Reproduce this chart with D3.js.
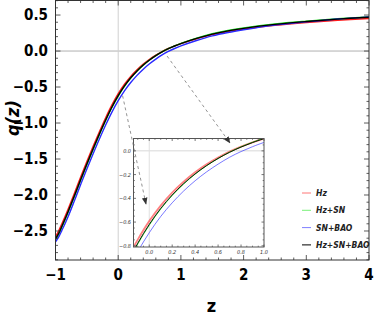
<!DOCTYPE html>
<html>
<head>
<meta charset="utf-8">
<script src="https://cdn.jsdelivr.net/npm/d3@7"></script>
<style>
  body { margin: 0; background: #fff; }
  svg text { font-family: "Liberation Sans Narrow", "Arial Narrow", "DejaVu Sans Condensed", sans-serif; }
</style>
</head>
<body>
<svg id="chart" width="374" height="319"></svg>
<script>
// redshift grid
var zVals = [-1, -0.97, -0.94, -0.9, -0.85, -0.8, -0.7, -0.6, -0.5, -0.4, -0.3, -0.2, -0.1, 0,
  0.1, 0.2, 0.3, 0.4, 0.5, 0.6, 0.7, 0.8, 0.9, 1.0, 1.25, 1.5, 1.75, 2, 2.5, 3, 3.5, 4];

// q(z) for each data combination
var qHz = [-2.58, -2.532, -2.48, -2.402, -2.302, -2.197, -1.978, -1.753, -1.533, -1.323, -1.12, -0.926, -0.748, -0.592,
  -0.461, -0.352, -0.26, -0.181, -0.114, -0.057, -0.007, 0.035, 0.071, 0.103, 0.17, 0.228, 0.272, 0.305, 0.357, 0.396, 0.427, 0.452];
var qHzSN = [-2.625, -2.578, -2.527, -2.449, -2.349, -2.244, -2.024, -1.799, -1.578, -1.367, -1.162, -0.966, -0.785, -0.626,
  -0.49, -0.376, -0.279, -0.196, -0.125, -0.064, -0.011, 0.034, 0.072, 0.106, 0.18, 0.241, 0.286, 0.321, 0.376, 0.415, 0.448, 0.474];
var qSNBAO = [-2.65, -2.612, -2.567, -2.495, -2.403, -2.303, -2.083, -1.858, -1.638, -1.428, -1.223, -1.028, -0.848, -0.69,
  -0.553, -0.438, -0.338, -0.252, -0.177, -0.112, -0.054, -0.006, 0.035, 0.071, 0.146, 0.21, 0.257, 0.295, 0.36, 0.405, 0.445, 0.475];
var qAll = [-2.61, -2.565, -2.515, -2.438, -2.338, -2.233, -2.013, -1.788, -1.568, -1.358, -1.153, -0.958, -0.778, -0.62,
  -0.485, -0.372, -0.276, -0.194, -0.124, -0.064, -0.012, 0.032, 0.07, 0.103, 0.175, 0.235, 0.28, 0.315, 0.37, 0.41, 0.443, 0.47];

var seriesNames = ["Hz", "Hz+SN", "SN+BAO", "Hz+SN+BAO"];
var seriesValues = [qHz, qHzSN, qSNBAO, qAll];
var seriesColors = ["#ff1a1a", "#1ee61e", "#2a2aff", "#000000"];

var xTicks = [-1, 0, 1, 2, 3, 4];
var yTicks = [0.5, 0.0, -0.5, -1.0, -1.5, -2.0, -2.5];
var insetXTicks = [0.0, 0.2, 0.4, 0.6, 0.8, 1.0];
var insetYTicks = [0.0, -0.2, -0.4, -0.6, -0.8];

var svg = d3.select("svg#chart");

var x = d3.scaleLinear().domain([-1, 4]).range([55.5, 369]);
var y = d3.scaleLinear().domain([-2.903, 0.702]).range([260, 0.5]);

var series = seriesNames.map(function(n, i) {
  return { name: n, color: seriesColors[i], pts: zVals.map(function(z, j) { return [z, seriesValues[i][j]]; }) };
});

function fmtMinus(s) { return s.replace("-", "\u2212"); }

// ---- main plot ----
svg.append("clipPath").attr("id", "mainclip").append("rect")
  .attr("x", x(-1)).attr("y", 0.5).attr("width", x(4) - x(-1)).attr("height", 259.5);

// axis lines through origin
svg.append("line").attr("x1", x(-1)).attr("x2", x(4)).attr("y1", y(0)).attr("y2", y(0))
  .attr("stroke", "#b0b0b0").attr("stroke-width", 1);
svg.append("line").attr("x1", x(0)).attr("x2", x(0)).attr("y1", 0.5).attr("y2", 260)
  .attr("stroke", "#d0d0d0").attr("stroke-width", 1);

var line = d3.line().x(d => x(d[0])).y(d => y(d[1])).curve(d3.curveCatmullRom);

svg.append("g").attr("clip-path", "url(#mainclip)")
  .selectAll("path").data(series).enter().append("path")
  .attr("d", d => line(d.pts))
  .attr("fill", "none")
  .attr("stroke", d => d.color)
  .attr("stroke-width", 1.4);

// frame + ticks
function drawFrame(g, xs, ys, xMajor, xMinor, yMajor, yMinor, tl, tm, col) {
  var x0 = xs.range()[0], x1 = xs.range()[1], y0 = ys.range()[1], y1 = ys.range()[0];
  g.append("rect").attr("x", x0).attr("y", y0).attr("width", x1 - x0).attr("height", y1 - y0)
    .attr("fill", "none").attr("stroke", col).attr("stroke-width", 1);
  xMajor.concat(xMinor).forEach(function(v, i) {
    var L = i < xMajor.length ? tl : tm;
    g.append("line").attr("x1", xs(v)).attr("x2", xs(v)).attr("y1", y1).attr("y2", y1 - L).attr("stroke", col).attr("stroke-width", 0.8);
    g.append("line").attr("x1", xs(v)).attr("x2", xs(v)).attr("y1", y0).attr("y2", y0 + L).attr("stroke", col).attr("stroke-width", 0.8);
  });
  yMajor.concat(yMinor).forEach(function(v, i) {
    var L = i < yMajor.length ? tl : tm;
    g.append("line").attr("y1", ys(v)).attr("y2", ys(v)).attr("x1", x0).attr("x2", x0 + L).attr("stroke", col).attr("stroke-width", 0.8);
    g.append("line").attr("y1", ys(v)).attr("y2", ys(v)).attr("x1", x1).attr("x2", x1 - L).attr("stroke", col).attr("stroke-width", 0.8);
  });
}

var mainFrame = svg.append("g");
var xMinor = d3.range(-1, 4.001, 0.2).filter(v => Math.abs(v - Math.round(v)) > 1e-6);
var yMinor = d3.range(-2.9, 0.71, 0.1).filter(v => Math.abs(v * 2 - Math.round(v * 2)) > 1e-6);
drawFrame(mainFrame, x, y, xTicks, xMinor, yTicks, yMinor, 5, 2.5, "#333");

svg.append("g").selectAll("text").data(xTicks).enter().append("text")
  .attr("x", d => x(d)).attr("y", 280)
  .attr("text-anchor", "middle")
  .attr("font-size", 15).attr("font-weight", "bold")
  .text(d => fmtMinus(String(d)));

svg.append("g").selectAll("text").data(yTicks).enter().append("text")
  .attr("x", 48).attr("y", d => y(d) + 5)
  .attr("text-anchor", "end")
  .attr("font-size", 15).attr("font-weight", "bold")
  .text(d => fmtMinus(d.toFixed(1)));

svg.append("text").attr("x", 211.5).attr("y", 312)
  .attr("text-anchor", "middle").attr("font-size", 18).attr("font-weight", "bold")
  .text("z");

svg.append("text").attr("transform", "translate(19,118) rotate(-90)")
  .attr("text-anchor", "middle").attr("font-size", 18).attr("font-weight", "bold").attr("font-style", "italic")
  .text("q(z)");

// ---- inset ----
var ix = d3.scaleLinear().domain([-0.137, 1.0]).range([133.5, 264]);
var iy = d3.scaleLinear().domain([-0.81, 0.104]).range([247, 138.5]);

var inset = svg.append("g");
inset.append("rect").attr("x", 133.5).attr("y", 138.5).attr("width", 130.5).attr("height", 108.5).attr("fill", "#fff");
inset.append("line").attr("x1", ix(-0.137)).attr("x2", ix(1)).attr("y1", iy(0)).attr("y2", iy(0))
  .attr("stroke", "#d8d8d8").attr("stroke-width", 1);
inset.append("line").attr("x1", ix(0)).attr("x2", ix(0)).attr("y1", 138.5).attr("y2", 247)
  .attr("stroke", "#e0e0e0").attr("stroke-width", 1);

svg.append("clipPath").attr("id", "insetclip").append("rect")
  .attr("x", 133.5).attr("y", 138.5).attr("width", 130.5).attr("height", 108.5);

var iline = d3.line().x(d => ix(d[0])).y(d => iy(d[1])).curve(d3.curveCatmullRom);
inset.append("g").attr("clip-path", "url(#insetclip)")
  .selectAll("path").data(series).enter().append("path")
  .attr("d", d => iline(d.pts.filter(p => p[0] >= -0.3 && p[0] <= 1.25)))
  .attr("fill", "none")
  .attr("stroke", d => d.color)
  .attr("stroke-opacity", (d, i) => i == 0 ? 0.55 : (i == 2 ? 0.7 : 1))
  .attr("stroke-width", (d, i) => i == 0 ? 1.8 : 0.9);

var ixMinor = d3.range(-0.1, 1.0, 0.05).filter(v => Math.abs(v * 5 - Math.round(v * 5)) > 1e-6);
var iyMinor = d3.range(-0.8, 0.1, 0.05).filter(v => Math.abs(v * 5 - Math.round(v * 5)) > 1e-6);
drawFrame(inset, ix, iy, insetXTicks, ixMinor, insetYTicks, iyMinor, 2.5, 1.3, "#555");

inset.append("g").selectAll("text").data(insetXTicks).enter().append("text")
  .attr("x", d => ix(d)).attr("y", 254)
  .attr("text-anchor", "middle").attr("font-size", 5.5).attr("font-style", "italic").attr("fill", "#333")
  .text(d => d.toFixed(1));
inset.append("g").selectAll("text").data(insetYTicks).enter().append("text")
  .attr("x", 131).attr("y", d => iy(d) + 2)
  .attr("text-anchor", "end").attr("font-size", 5.5).attr("font-style", "italic").attr("fill", "#333")
  .text(d => fmtMinus(d.toFixed(1)));

// ---- dashed zoom arrows (drawn over the inset) ----
var defs = svg.append("defs");
defs.append("marker").attr("id", "ah").attr("viewBox", "0 0 10 10")
  .attr("refX", 9).attr("refY", 5).attr("markerWidth", 7).attr("markerHeight", 7)
  .attr("orient", "auto").attr("markerUnits", "userSpaceOnUse")
  .append("path").attr("d", "M0,1 L10,5 L0,9 Z").attr("fill", "#333");

var arrows = [
  { from: [0.78, -0.07], to: [230, 143] },
  { from: [0.07, -0.62], to: [146, 204] }
];
svg.append("g").selectAll("line").data(arrows).enter().append("line")
  .attr("x1", d => x(d.from[0])).attr("y1", d => y(d.from[1]))
  .attr("x2", d => d.to[0]).attr("y2", d => d.to[1])
  .attr("stroke", "#777").attr("stroke-width", 0.8)
  .attr("stroke-dasharray", "3,3")
  .attr("marker-end", "url(#ah)");

// ---- legend ----
var legend = svg.append("g").selectAll("g").data(series).enter().append("g")
  .attr("transform", (d, i) => "translate(302," + (193 + i * 17.3) + ")");
legend.append("line").attr("x1", 0).attr("x2", 9).attr("y1", 0).attr("y2", 0)
  .attr("stroke", d => d.color).attr("stroke-width", 1).attr("stroke-opacity", (d, i) => i == 3 ? 1 : 0.6);
legend.append("text").attr("x", 14).attr("y", 3)
  .attr("font-size", 8.5).attr("font-style", "italic").attr("font-weight", "bold").attr("fill", "#222")
  .text(d => d.name);
</script>
</body>
</html>
